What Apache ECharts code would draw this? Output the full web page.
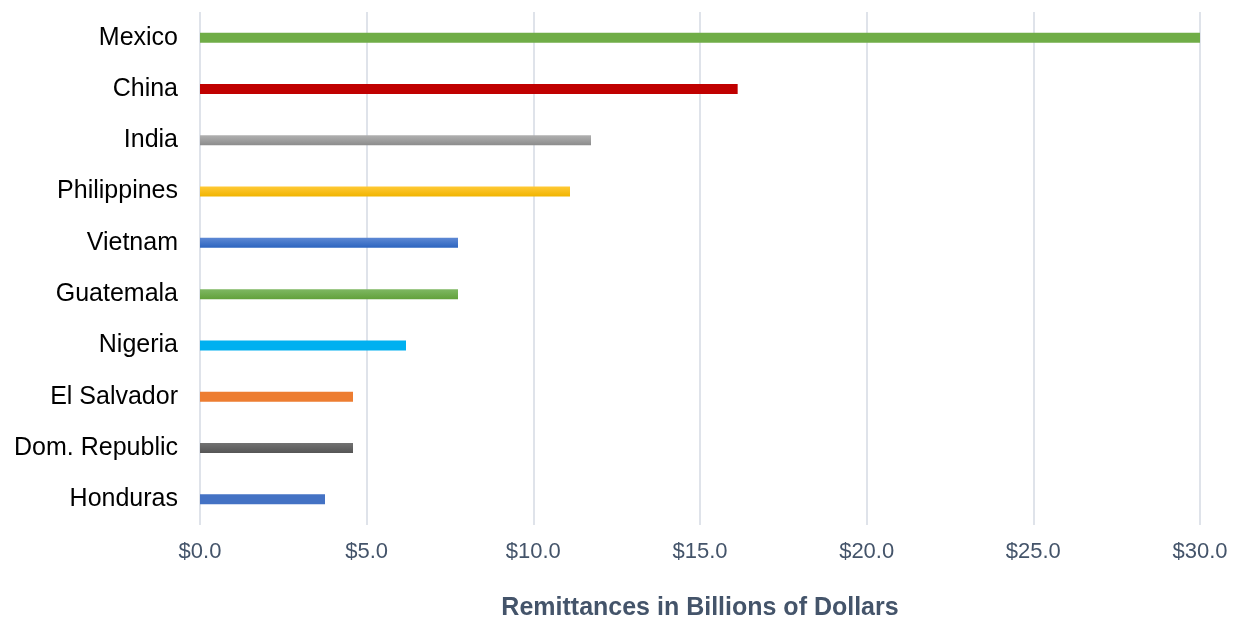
<!DOCTYPE html>
<html>
<head>
<meta charset="utf-8">
<script src="https://cdn.jsdelivr.net/npm/echarts@6/dist/echarts.min.js"></script>
<style>
  html, body { margin: 0; padding: 0; background: #fff; }
  #main { width: 1238px; height: 619px; }
</style>
</head>
<body>
<div id="main"></div>
<script>
// data, top to bottom
const countries = ['Mexico', 'China', 'India', 'Philippines', 'Vietnam', 'Guatemala', 'Nigeria', 'El Salvador', 'Dom. Republic', 'Honduras']
const remittances = [30.0, 16.13, 11.73, 11.1, 7.74, 7.74, 6.18, 4.59, 4.59, 3.75]
const barColors = [
    '#70ad47',
    '#c00000',
    ['#b0b0b0', '#8c8c8c'],
    ['#ffc935', '#f0b400'],
    ['#5d88d4', '#2c64bf'],
    ['#7fb863', '#62a13b'],
    '#00b0f0',
    '#ed7d31',
    ['#727272', '#555555'],
    '#4472c4'
]
const xTicks = [0, 5, 10, 15, 20, 25, 30]

const makeColor = (c) => {
    if (typeof c === 'string') return c
    return new echarts.graphic.LinearGradient(0, 0, 0, 1, [
        {offset: 0, color: c[0]},
        {offset: 1, color: c[1]}
    ])
}

let myChart = echarts.init(document.getElementById('main'))
let option = {
    animation: false,
    grid: {left: 200, right: 38, top: 12, bottom: 94, containLabel: false, outerBoundsMode: 'none'},
    xAxis: {
        type: 'value',
        min: xTicks[0],
        max: xTicks[xTicks.length - 1],
        interval: 5,
        name: 'Remittances in Billions of Dollars',
        nameLocation: 'middle',
        nameGap: 71,
        nameTextStyle: {fontFamily: 'Liberation Sans', fontSize: 25, fontWeight: 'bold', color: '#44546a'},
        axisLine: {show: false},
        axisTick: {show: false},
        axisLabel: {
            margin: 16,
            fontFamily: 'Liberation Sans',
            fontSize: 22,
            color: '#44546a',
            formatter: v => '$' + v.toFixed(1)
        },
        splitLine: {lineStyle: {color: '#dfe3ea', width: 2}}
    },
    yAxis: {
        type: 'category',
        inverse: true,
        data: countries,
        axisLine: {show: false},
        axisTick: {show: false},
        axisLabel: {margin: 22, fontFamily: 'Liberation Sans', fontSize: 25, color: '#000'}
    },
    series: [{
        type: 'bar',
        barWidth: 10,
        data: remittances.map((v, i) => ({value: v, itemStyle: {color: makeColor(barColors[i])}}))
    }]
}
myChart.setOption(option)
</script>
</body>
</html>
